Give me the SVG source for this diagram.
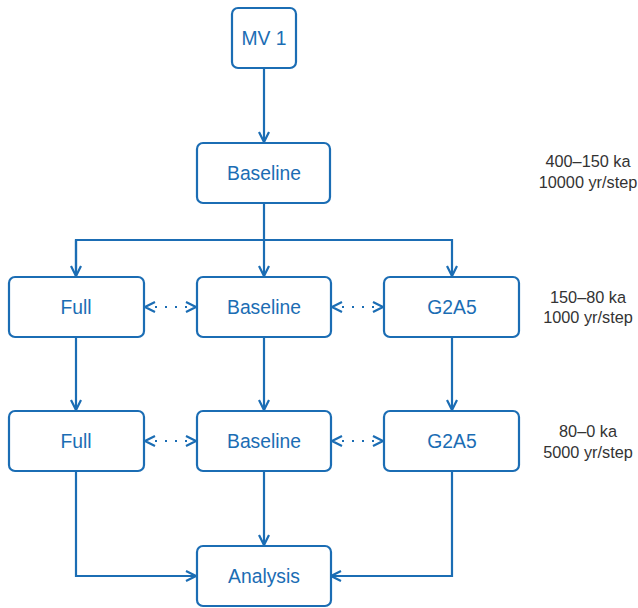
<svg xmlns="http://www.w3.org/2000/svg" width="638" height="608" viewBox="0 0 638 608">
<style>
.box{fill:#fff;stroke:#1b6db4;stroke-width:2.2}
.lbl{font-family:"Liberation Sans",Arial,sans-serif;font-size:19.3px;fill:#1b6db4;text-anchor:middle;dominant-baseline:central}
.side{font-family:"Liberation Sans",Arial,sans-serif;font-size:16.3px;fill:#333;text-anchor:middle}
.c{fill:none;stroke:#1b6db4;stroke-width:2.2}
.d{fill:none;stroke:#1b6db4;stroke-width:2.2;stroke-dasharray:2 8}
</style>
<defs>
<marker id="a" viewBox="0 0 12 12" refX="11" refY="6" markerWidth="12" markerHeight="12" markerUnits="userSpaceOnUse" orient="auto-start-reverse">
<path d="M1,1 L11,6 L1,11" fill="none" stroke="#1b6db4" stroke-width="2.2"/>
</marker>
</defs>
<rect width="638" height="608" fill="#fff"/>
<g id="connectors">
<path class="c" d="M264,68 V142" marker-end="url(#a)"/>
<path class="c" d="M264,203 V276" marker-end="url(#a)"/>
<path class="c" d="M76,276 V240 H452 V276" marker-end="url(#a)"/>
<path class="c" d="M76,240 V276" marker-end="url(#a)"/>
<path class="c" d="M76,337 V410" marker-end="url(#a)"/>
<path class="c" d="M264,337 V410" marker-end="url(#a)"/>
<path class="c" d="M452,337 V410" marker-end="url(#a)"/>
<path class="c" d="M264,471 V545" marker-end="url(#a)"/>
<path class="c" d="M76,471 V576 H196" marker-end="url(#a)"/>
<path class="c" d="M452,471 V576 H331" marker-end="url(#a)"/>
<path class="d" d="M145,307 H196" marker-start="url(#a)" marker-end="url(#a)"/>
<path class="d" d="M332,307 H383" marker-start="url(#a)" marker-end="url(#a)"/>
<path class="d" d="M145,441 H196" marker-start="url(#a)" marker-end="url(#a)"/>
<path class="d" d="M332,441 H383" marker-start="url(#a)" marker-end="url(#a)"/>
</g>
<g id="mv1"><rect class="box" x="232" y="8" width="64" height="60" rx="6"/><text class="lbl" x="264" y="38">MV 1</text></g>
<g id="baseline0"><rect class="box" x="197" y="143" width="133" height="60" rx="6"/><text class="lbl" x="264" y="173">Baseline</text></g>
<g id="full1"><rect class="box" x="9" y="277" width="135" height="60" rx="6"/><text class="lbl" x="76" y="307">Full</text></g>
<g id="baseline1"><rect class="box" x="197" y="277" width="134" height="60" rx="6"/><text class="lbl" x="264" y="307">Baseline</text></g>
<g id="g2a51"><rect class="box" x="384" y="277" width="135" height="60" rx="6"/><text class="lbl" x="452" y="307">G2A5</text></g>
<g id="full2"><rect class="box" x="9" y="411" width="135" height="60" rx="6"/><text class="lbl" x="76" y="441">Full</text></g>
<g id="baseline2"><rect class="box" x="197" y="411" width="134" height="60" rx="6"/><text class="lbl" x="264" y="441">Baseline</text></g>
<g id="g2a52"><rect class="box" x="384" y="411" width="135" height="60" rx="6"/><text class="lbl" x="452" y="441">G2A5</text></g>
<g id="analysis"><rect class="box" x="197" y="546" width="134" height="60" rx="6"/><text class="lbl" x="264" y="576">Analysis</text></g>
<g id="labels">
<text class="side" x="588" y="167">400–150 ka</text>
<text class="side" x="588" y="188">10000 yr/step</text>
<text class="side" x="588" y="303">150–80 ka</text>
<text class="side" x="588" y="323">1000 yr/step</text>
<text class="side" x="588" y="437">80–0 ka</text>
<text class="side" x="588" y="458">5000 yr/step</text>
</g>
</svg>
